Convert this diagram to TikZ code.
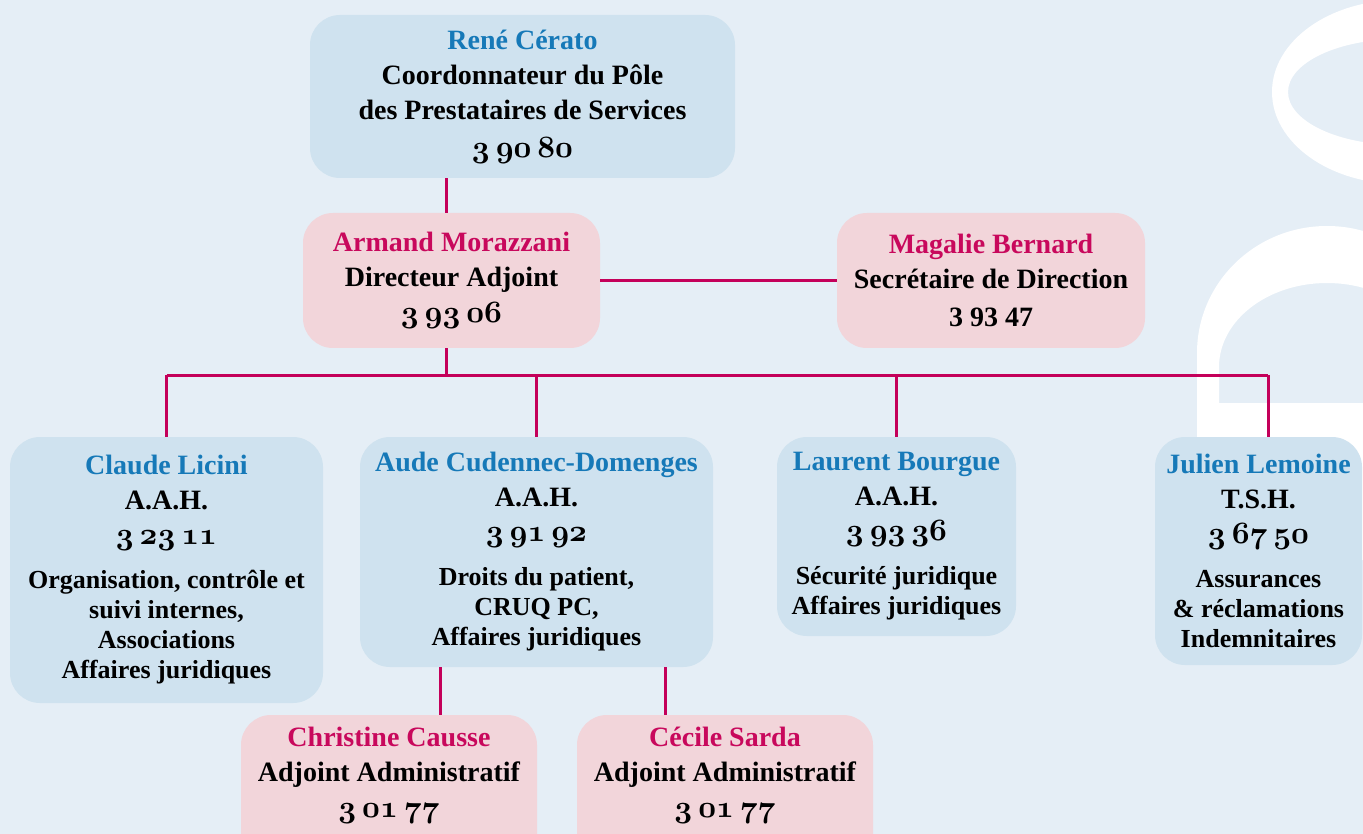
\RequirePackage{fix-cm}
\documentclass[tikz,border=0pt]{standalone}
\usepackage{fontspec}
\setmainfont{Liberation Serif}
\definecolor{bgc}{HTML}{E5EEF6}
\definecolor{boxblue}{HTML}{CFE2EF}
\definecolor{boxpink}{HTML}{F2D5DA}
\definecolor{nameblue}{HTML}{1679B8}
\definecolor{namepink}{HTML}{C8085C}
\definecolor{linkc}{HTML}{C4005A}
\newcommand\osf[1]{{\fontsize{31}{35}\usefont{OML}{cmm}{b}{it}#1}}
\newcommand\tel[3]{\osf{#1}\hspace{6pt}\osf{#2}\hspace{6pt}\osf{#3}}
\newcommand\dt{\fontsize{26}{30}\selectfont}
\newcommand\nb[1]{{\color{nameblue}#1}}
\newcommand\np[1]{{\color{namepink}#1}}
\tikzset{
  orgbox/.style={rounded corners=30pt, inner sep=0pt, align=center,
    font=\bfseries\fontsize{28}{35}\selectfont},
  bluebox/.style={orgbox, fill=boxblue},
  pinkbox/.style={orgbox, fill=boxpink},
  link/.style={draw=linkc, line width=3pt}
}
\begin{document}
\begin{tikzpicture}[x=1pt, y=-1pt]
\useasboundingbox (0,0) rectangle (1363,834);
\clip (0,0) rectangle (1363,834);
\fill[bgc] (0,0) rectangle (1363,834);
% decorative white letters
\fill[white, even odd rule] (1400,92) ellipse [x radius=128pt, y radius=92pt]
  (1400,92) ellipse [x radius=112pt, y radius=53pt];
\fill[white, even odd rule] (1197,560) -- (1197,353)
  arc[start angle=180, end angle=0, x radius=130pt, y radius=127pt] -- (1457,560) -- cycle
  (1219,403) -- (1219,367)
  arc[start angle=180, end angle=0, x radius=108pt, y radius=84pt] -- (1435,403) -- cycle;
% boxes
\node[bluebox, minimum width=425pt, minimum height=163pt] (rene) at (522.5,96.5)
  {\nb{René Cérato}\\Coordonnateur du Pôle\\des Prestataires de Services\\[3pt]\tel{3}{90}{80}};
\node[pinkbox, minimum width=297pt, minimum height=135pt] (armand) at (451.5,280.5)
  {\np{Armand Morazzani}\\Directeur Adjoint\\[1pt]\tel{3}{93}{06}};
\node[pinkbox, minimum width=308pt, minimum height=135pt] (magalie) at (991,280.5)
  {\np{Magalie Bernard}\\Secrétaire de Direction\\[3pt]3 93 47};
\node[bluebox, minimum width=313pt, minimum height=266pt] (claude) at (166.5,570)
  {\nb{Claude Licini}\\A.A.H.\\\tel{3}{23}{11}\\[9pt]\dt Organisation, contrôle et\\[-5pt]\dt suivi internes,\\[-5pt]\dt Associations\\[-5pt]\dt Affaires juridiques};
\node[bluebox, minimum width=353pt, minimum height=230pt] (aude) at (536.5,552)
  {\nb{Aude Cudennec-Domenges}\\A.A.H.\\\tel{3}{91}{92}\\[9pt]\dt Droits du patient,\\[-5pt]\dt CRUQ PC,\\[-5pt]\dt Affaires juridiques};
\node[bluebox, minimum width=239pt, minimum height=199pt] (laurent) at (896.5,536.5)
  {\nb{Laurent Bourgue}\\A.A.H.\\\tel{3}{93}{36}\\[9pt]\dt Sécurité juridique\\[-5pt]\dt Affaires juridiques};
\node[bluebox, minimum width=207pt, minimum height=228pt] (julien) at (1258.5,551)
  {\nb{Julien Lemoine}\\T.S.H.\\\tel{3}{67}{50}\\[9pt]\dt Assurances\\[-5pt]\dt \& réclamations\\[-5pt]\dt Indemnitaires};
\node[pinkbox, minimum width=296pt, minimum height=155pt, text depth=40pt] (christine) at (389,792.5)
  {\np{Christine Causse}\\Adjoint Administratif\\[1pt]\tel{3}{01}{77}};
\node[pinkbox, minimum width=296pt, minimum height=155pt, text depth=40pt] (cecile) at (725,792.5)
  {\np{Cécile Sarda}\\Adjoint Administratif\\[1pt]\tel{3}{01}{77}};
% junction coordinates
\coordinate (jtop) at (446,375);
\coordinate (jright) at (1268,375);
\coordinate (jc) at (440,690);
\coordinate (jd) at (665,690);
% connectors
\draw[link] (rene.south -| jtop) -- (armand.north -| jtop);
\draw[link] (armand.south -| jtop) -- (jtop);
\draw[link] (armand.east) -- (magalie.west);
\draw[link] (claude.north |- jtop) -- (jright);
\draw[link] (claude.north |- jtop) -- (claude.north);
\draw[link] (aude.north |- jtop) -- (aude.north);
\draw[link] (laurent.north |- jtop) -- (laurent.north);
\draw[link] (jright) -- (julien.north -| jright);
\draw[link] (aude.south -| jc) -- (christine.north -| jc);
\draw[link] (aude.south -| jd) -- (cecile.north -| jd);
\end{tikzpicture}
\end{document}
